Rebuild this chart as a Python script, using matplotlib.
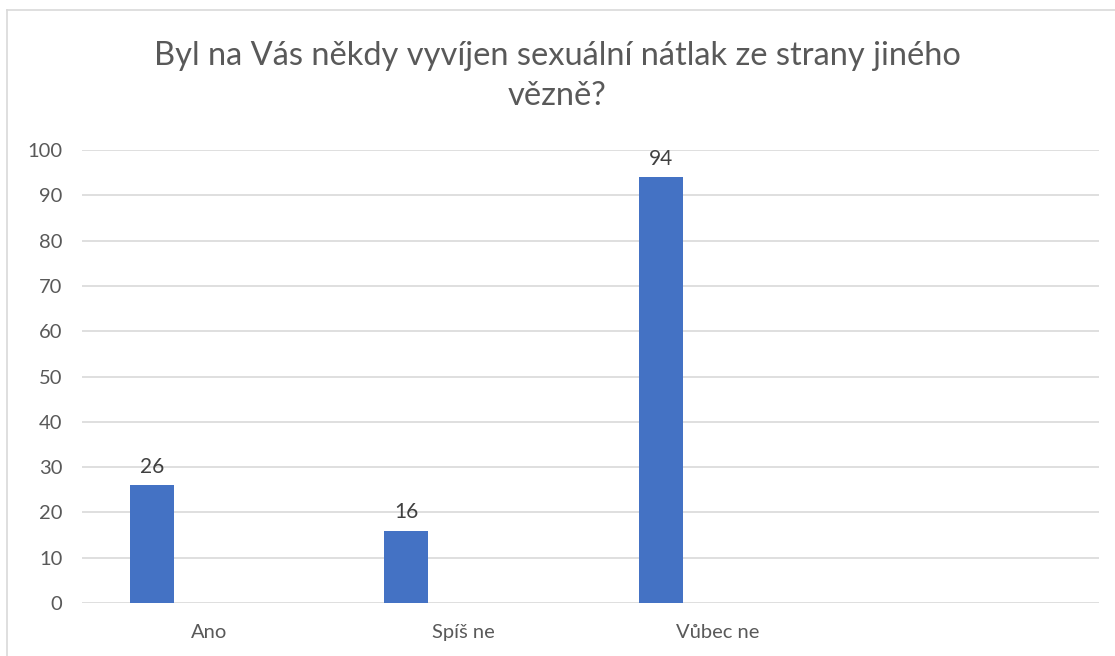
import matplotlib
matplotlib.use('Agg')
import numpy as np
from matplotlib import pyplot as plt
from matplotlib.lines import Line2D

categories = ['Ano', 'Spíš ne', 'Vůbec ne', '']
values = [26, 16, 94, None]
y_ticks = [0, 10, 20, 30, 40, 50, 60, 70, 80, 90, 100]
title = 'Byl na Vás někdy vyvíjen sexuální nátlak ze strany jiného\nvězně?'

plt.rcParams['font.family'] = ['Lato', 'DejaVu Sans']
text_color = '#595959'
bar_color = '#4472c4'
grid_color = '#d9d9d9'

fig = plt.figure(figsize=(11.15, 6.56), dpi=100)
ax = fig.add_axes([82 / 1115, 1 - 603 / 656, (1099 - 82) / 1115, (603 - 150) / 656])

x = np.arange(len(categories))
offset = -0.224  # second (empty) series would sit on the right
width = 0.173
for xi, v in zip(x, values):
    if v is None:
        continue
    ax.bar(xi + offset, v, width=width, color=bar_color, zorder=3)
    ax.text(xi + offset, v + 1.8, str(v), ha='center', va='bottom',
            fontsize=15, color='#404040')

ax.set_xlim(-0.5, len(categories) - 0.5)
ax.set_ylim(0, 100)
ax.set_yticks(y_ticks)
ax.set_xticks(x)
ax.set_xticklabels(categories)
ax.tick_params(axis='both', length=0, labelsize=14.5, colors=text_color)
ax.tick_params(axis='x', pad=15)
ax.tick_params(axis='y', pad=14)
ax.yaxis.grid(True, color=grid_color, linewidth=1.2, zorder=0)
for s in ax.spines.values():
    s.set_visible(False)

fig.text(0.5, 1 - 76 / 656, title, ha='center', va='center', fontsize=23.5,
         color=text_color, linespacing=1.4)

# chart area border (only left and top visible in the crop)
fig.add_artist(Line2D([7 / 1115, 7 / 1115], [0, 1 - 10 / 656], color=grid_color, lw=1.2))
fig.add_artist(Line2D([7 / 1115, 1], [1 - 10 / 656, 1 - 10 / 656], color=grid_color, lw=1.2))

fig.savefig('out.png', dpi=100)
